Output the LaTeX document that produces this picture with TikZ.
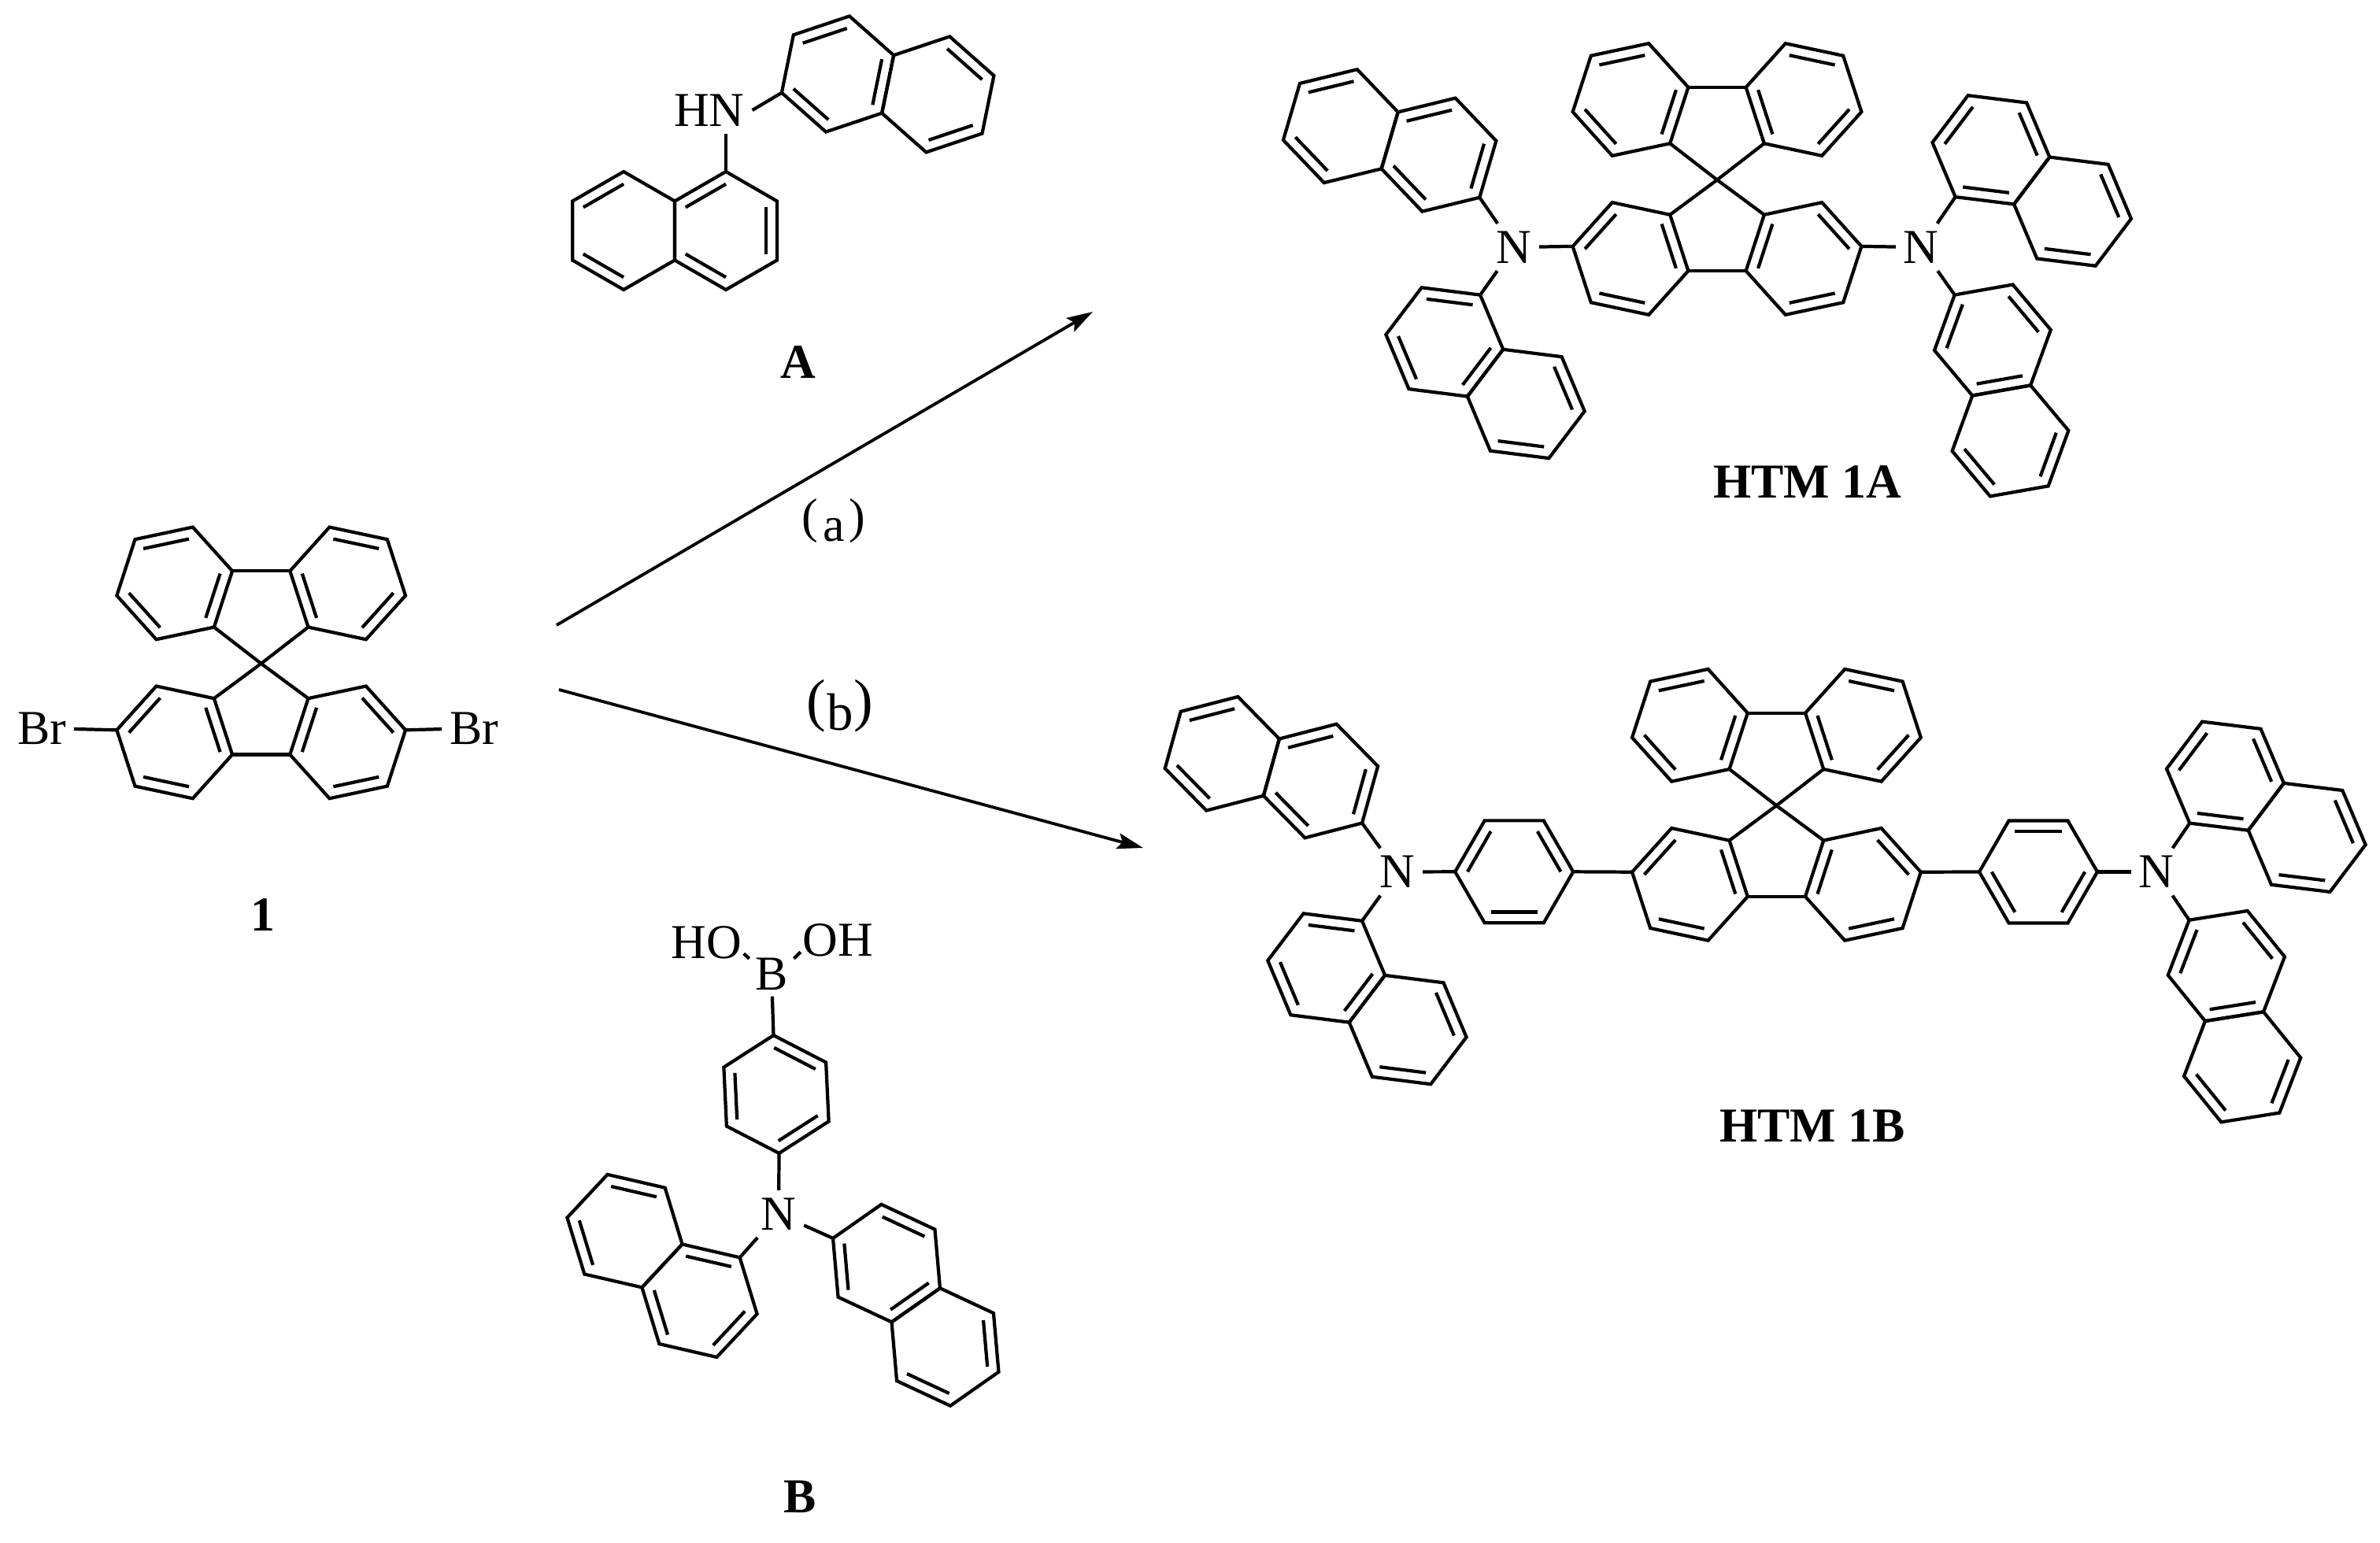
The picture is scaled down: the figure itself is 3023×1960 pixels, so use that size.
\documentclass[tikz,border=0pt]{standalone}
\usepackage{fontspec}
\setmainfont{Liberation Serif}
\usetikzlibrary{arrows.meta,calc}
\def\bondlen{75}
\def\innerlen{59.2}
\def\atomfont{\fontsize{17.6}{20}\selectfont}
% one six-membered ring: name, centre, turn, edges with an inner line
\newcommand{\hexring}[4]{%
  \begin{scope}[shift={#2}]
    \coordinate (#1-c) at (0,0);
    \foreach \v in {0,...,5} {\coordinate (#1-\v) at ({#3+60*\v}:\bondlen);}
    \draw[bond] (#1-0) -- (#1-1) -- (#1-2) -- (#1-3) -- (#1-4) -- (#1-5) -- cycle;
    \foreach \e in {#4} {\draw[bond] ({#3+60*\e}:\innerlen) -- ({#3+60*\e+60}:\innerlen);}
  \end{scope}}
% ring sharing edge #4 of the ring #2
\newcommand{\fusedring}[5]{%
  \hexring{#1}{($(#2-c)+({#3+60*#4+30}:1.732*\bondlen)$)}{#3}{#5}}
% the spiro core: name, x, y of the spiro carbon
\newcommand{\spirocore}[3]{%
  \coordinate (#1s) at (#2,#3);
  \hexring{#1ul}{(#2-110,#3-102)}{48}{1,3,5}
  \hexring{#1ur}{(#2+110,#3-102)}{12}{0,2,4}
  \hexring{#1ll}{(#2-110,#3+100)}{12}{1,3,5}
  \hexring{#1lr}{(#2+110,#3+100)}{48}{0,2,4}
  \path[bond]
    (#1s) edge (#1ul-0) (#1s) edge (#1ur-2)
    (#1s) edge (#1ll-5) (#1s) edge (#1lr-3)
    (#1ul-5) edge (#1ur-3) (#1ll-0) edge (#1lr-2);}

\begin{document}
\begin{tikzpicture}[x=0.01cm,y=-0.01cm,
    bond/.style={line width=1.2pt},
    atom/.style={font=\atomfont,inner sep=2.6pt},
    tightatom/.style={font=\atomfont,inner sep=0.5pt},
    cpd/.style={font=\atomfont\bfseries,inner sep=0pt},
    rxn/.style={line width=1.1pt,-{Stealth[length=0.33cm,width=0.2cm,inset=0.06cm]}}
  ]
  \useasboundingbox (0,0) rectangle (3023,1960);

  % amine A
  \hexring{Aa}{(922,293)}{30}{1,3,5}
  \fusedring{Ab}{Aa}{30}{2}{1,3}
  \hexring{Ac}{(1064,94)}{41.5}{1,3,5}
  \fusedring{Ad}{Ac}{41.5}{5}{0,4}
  \node[atom] (nHN) at (901,140) {HN};
  \path[bond]
    (Ac-2) edge (nHN.east)
    (Aa-4) edge (Aa-4 |- nHN.south);
  \node[cpd] (lA) at (1014,460) {A};

  % dibromide 1
  \spirocore{p}{331.7}{842.9}
  \node[atom] (nBrL) at (53,925) {Br};
  \node[atom] (nBrR) at (602,925) {Br};
  \path[bond]
    (pll-3) edge (nBrL)
    (plr-5) edge (nBrR);
  \node[cpd] (lP) at (334,1162) {1};

  % boronic acid B
  \hexring{Ba}{(986,1390)}{27.3}{0,2,4}
  \node[atom,inner sep=2pt] (nBB) at (980,1237.5) {B};
  \node[tightatom] (nHO) at (897.5,1197) {HO};
  \node[tightatom] (nOH) at (1064,1194) {OH};
  \node[atom] (nBN) at (989,1542) {N};
  \hexring{Bb}{(888.5,1652.2)}{13}{0,2,4}
  \fusedring{Bc}{Bb}{13}{3}{2,4}
  \hexring{Bd}{(1126,1604.6)}{25}{0,2,4}
  \fusedring{Be}{Bd}{25}{0}{1,5}
  \path[bond]
    (Ba-4) edge (nBB)
    (nBB.145) edge (nHO.-17)
    (nBB.35) edge (nOH.198)
    (Ba-1) edge (nBN)
    (Bb-5) edge (nBN)
    (Bd-3) edge (nBN);
  \node[cpd] (lB) at (1016,1901) {B};

  % the two reactions
  \coordinate (ra0) at (707,794);
  \coordinate (ra1) at (1388,396);
  \coordinate (rb0) at (710,876);
  \coordinate (rb1) at (1452,1077);
  \path[rxn] (ra0) edge (ra1);
  \path[rxn] (rb0) edge (rb1);
  \node[font=\atomfont,inner sep=0pt] (ta) at (1059,662)
    {\raisebox{.17em}{(}\hspace{.1em}a\hspace{.1em}\raisebox{.17em}{)}};
  \node[font=\atomfont,inner sep=0pt] (tb) at (1067,897)
    {\raisebox{.2em}{\fontsize{21}{21}\selectfont(}\hspace{.02em}{\fontsize{19}{20}\selectfont b}\hspace{.02em}\raisebox{.2em}{\fontsize{21}{21}\selectfont)}};

  % HTM 1A
  \spirocore{q}{2181}{228.5}
  \node[atom] (nQL) at (1923,314) {N};
  \node[atom] (nQR) at (2440,314) {N};
  \hexring{Qa}{(1827.5,196.6)}{46.3}{1,3,5}
  \fusedring{Qb}{Qa}{46.3}{2}{1,3}
  \hexring{Qc}{(1834.8,434.4)}{7.2}{0,2,4}
  \fusedring{Qd}{Qc}{7.2}{0}{1,5}
  \hexring{Qe}{(2528.9,190.3)}{7.1}{1,3,5}
  \fusedring{Qf}{Qe}{7.1}{0}{1,5}
  \hexring{Qg}{(2530.9,432)}{50}{0,2,4}
  \fusedring{Qh}{Qg}{50}{0}{1,5}
  \path[bond]
    (qll-3) edge (nQL)
    (qlr-5) edge (nQR)
    (Qa-0) edge (nQL)
    (Qc-5) edge (nQL)
    (Qe-2) edge (nQR)
    (Qg-3) edge (nQR);
  \node[cpd] (lQ) at (2296,612) {HTM 1A};

  % HTM 1B
  \spirocore{r}{2256.4}{1023.3}
  \hexring{Ra}{(1923.2,1107.3)}{0}{1,3,5}
  \hexring{Rb}{(2589,1107.5)}{0}{0,2,4}
  \node[atom] (nRL) at (1775,1107.5) {N};
  \node[atom] (nRR) at (2739,1107.5) {N};
  \hexring{Rc}{(1677.5,992)}{45.5}{1,3,5}
  \fusedring{Rd}{Rc}{45.5}{2}{1,3}
  \hexring{Re}{(1684.7,1229.5)}{7.2}{0,2,4}
  \fusedring{Rf}{Re}{7.2}{0}{1,5}
  \hexring{Rg}{(2826.4,985.7)}{7}{1,3,5}
  \fusedring{Rh}{Rg}{7}{0}{1,5}
  \hexring{Ri}{(2827.8,1227)}{51}{0,2,4}
  \fusedring{Rj}{Ri}{51}{0}{1,5}
  \path[bond]
    (Ra-0) edge (rll-3)
    (rlr-5) edge (Rb-3)
    (Ra-3) edge (nRL)
    (Rb-0) edge (nRR)
    (Rc-0) edge (nRL)
    (Re-5) edge (nRL)
    (Rg-2) edge (nRR)
    (Ri-3) edge (nRR);
  \node[cpd] (lR) at (2302,1430) {HTM 1B};
\end{tikzpicture}
\end{document}
